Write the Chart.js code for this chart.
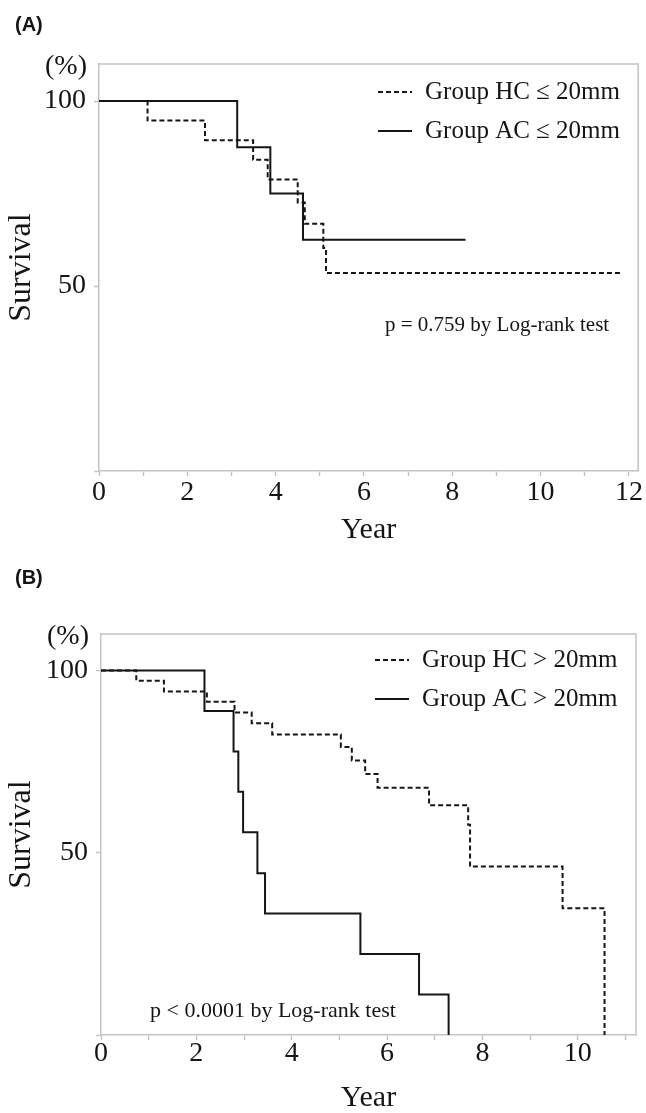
<!DOCTYPE html>
<html>
<head>
<meta charset="utf-8">
<script src="https://cdn.jsdelivr.net/npm/chart.js@4.4.1/dist/chart.umd.min.js"></script>
<style>
  body { margin: 0; background: #fff; }
  .panel { position: absolute; left: 0; }
</style>
</head>
<body>
<canvas id="chartA" class="panel" width="646" height="556" style="top:0"></canvas>
<canvas id="chartB" class="panel" width="646" height="557" style="top:556px"></canvas>
<script>
// Panel A: tumours <= 20mm
const yearsHC_A = [0, 1.10, 2.40, 3.49, 3.82, 4.50, 4.66, 5.08, 5.14, 11.86];
const survHC_A  = [100, 94.7, 89.4, 84.1, 78.8, 72.6, 66.8, 60.3, 53.5, 53.5];
const yearsAC_A = [0, 3.13, 3.88, 4.62, 8.30];
const survAC_A  = [100, 87.5, 75, 62.5, 62.5];

// Panel B: tumours > 20mm
const yearsHC_B = [0, 0.74, 1.32, 2.22, 2.80, 3.16, 3.59, 5.03, 5.26, 5.54, 5.80, 6.88, 7.70, 7.74, 9.68, 10.56];
const survHC_B  = [100, 97.2, 94.2, 91.4, 88.5, 85.5, 82.4, 79.0, 75.3, 71.6, 67.8, 63.0, 57.7, 46.2, 34.8, 0];
const yearsAC_B = [0, 2.17, 2.78, 2.88, 2.98, 3.28, 3.44, 5.44, 6.67, 7.29];
const survAC_B  = [100, 88.9, 77.8, 66.7, 55.6, 44.4, 33.3, 22.2, 11.1, 0];

const yearTicksA = [0, 1, 2, 3, 4, 5, 6, 7, 8, 9, 10, 11, 12];
const yearTicksB = [0, 1, 2, 3, 4, 5, 6, 7, 8, 9, 10, 11];
const survTicks = [0, 50, 100];

const labelsA = ['Group HC \u2264 20mm', 'Group AC \u2264 20mm'];
const labelsB = ['Group HC > 20mm', 'Group AC > 20mm'];
const noteA = 'p = 0.759 by Log-rank test';
const noteB = 'p < 0.0001 by Log-rank test';

const SERIF = '"Liberation Serif", "DejaVu Serif", serif';
const INK = '#151515';
const AXIS = '#c4c4c4';

function toPoints(xs, ys) {
    return xs.map((x, i) => ({ x: x, y: ys[i] }));
}

// draws frame, panel tag, (%) unit, legend and the p-value note
const annotate = {
    id: 'annotate',
    afterDraw(chart, args, opts) {
        const ctx = chart.ctx;
        const area = chart.chartArea;
        ctx.save();

        ctx.strokeStyle = AXIS;
        ctx.lineWidth = 1.5;
        ctx.beginPath();
        ctx.moveTo(area.left, area.top);
        ctx.lineTo(area.right, area.top);
        ctx.lineTo(area.right, area.bottom);
        ctx.stroke();

        ctx.fillStyle = INK;
        ctx.textBaseline = 'middle';
        ctx.textAlign = 'left';
        ctx.font = 'bold 20px "Liberation Sans", Arial, sans-serif';
        ctx.fillText(opts.tag, 15, opts.tagY);

        ctx.font = '28px ' + SERIF;
        ctx.textAlign = 'right';
        ctx.fillText('(%)', area.left - 12, area.top + 3);

        ctx.textAlign = 'left';
        ctx.font = '25px ' + SERIF;
        chart.data.datasets.forEach(function(ds, i) {
            const y = opts.legendY + i * opts.legendGap;
            ctx.strokeStyle = ds.borderColor;
            ctx.lineWidth = 2;
            ctx.setLineDash(ds.borderDash || []);
            ctx.beginPath();
            ctx.moveTo(opts.legendX, y);
            ctx.lineTo(opts.legendX + 34, y);
            ctx.stroke();
            ctx.setLineDash([]);
            ctx.fillText(ds.label, opts.legendX + 47, y);
        });

        ctx.font = opts.noteSize + 'px ' + SERIF;
        ctx.fillText(opts.note, opts.noteX, opts.noteY);
        ctx.restore();
    }
};

function makeChart(id, cfg) {
    const ctx = document.getElementById(id).getContext('2d');
    return new Chart(ctx, {
        type: 'line',
        data: {
            datasets: [
                {
                    label: cfg.labels[0],
                    data: toPoints(cfg.hcX, cfg.hcY),
                    borderColor: INK,
                    borderWidth: 2,
                    borderDash: [5, 3],
                    stepped: 'before',
                    pointRadius: 0,
                    fill: false,
                    order: 1
                },
                {
                    label: cfg.labels[1],
                    data: toPoints(cfg.acX, cfg.acY),
                    borderColor: INK,
                    borderWidth: 2,
                    stepped: 'before',
                    pointRadius: 0,
                    fill: false,
                    order: 0
                }
            ]
        },
        options: {
            responsive: false,
            animation: false,
            devicePixelRatio: 1,
            layout: { padding: cfg.padding },
            plugins: {
                legend: { display: false },
                tooltip: { enabled: false },
                annotate: cfg.annotate
            },
            scales: {
                x: {
                    type: 'linear',
                    min: 0,
                    max: cfg.xMax,
                    afterBuildTicks: function(scale) {
                        scale.ticks = cfg.xTicks.map(v => ({ value: v }));
                    },
                    afterFit: function(scale) { scale.height = cfg.xHeight; },
                    grid: { drawOnChartArea: false, tickLength: 5, tickColor: AXIS, tickWidth: 1.5 },
                    border: { color: AXIS, width: 1.5 },
                    ticks: {
                        autoSkip: false,
                        maxRotation: 0,
                        padding: cfg.xPad,
                        color: INK,
                        font: { family: SERIF, size: 28, lineHeight: 1 },
                        callback: v => (v % 2 === 0 ? String(v) : '')
                    },
                    title: {
                        display: true,
                        text: 'Year',
                        color: INK,
                        padding: 0,
                        font: { family: SERIF, size: 30, lineHeight: 1 }
                    }
                },
                y: {
                    type: 'linear',
                    min: 0,
                    max: 110,
                    afterBuildTicks: function(scale) {
                        scale.ticks = survTicks.map(v => ({ value: v }));
                    },
                    afterFit: function(scale) { scale.width = cfg.yWidth; },
                    grid: { drawOnChartArea: false, tickLength: 5, tickColor: AXIS, tickWidth: 1.5 },
                    border: { color: AXIS, width: 1.5 },
                    ticks: {
                        padding: 8,
                        color: INK,
                        font: { family: SERIF, size: 28, lineHeight: 1 },
                        callback: v => (v === 0 ? '' : String(v))
                    },
                    title: {
                        display: true,
                        text: 'Survival',
                        color: INK,
                        padding: 0,
                        font: { family: SERIF, size: 32, lineHeight: 1 }
                    }
                }
            }
        },
        plugins: [annotate]
    });
}

makeChart('chartA', {
    labels: labelsA,
    hcX: yearsHC_A, hcY: survHC_A,
    acX: yearsAC_A, acY: survAC_A,
    xTicks: yearTicksA,
    xMax: 12.21,
    xHeight: 74,
    xPad: 3,
    yWidth: 93,
    padding: { left: 6, top: 64, right: 6, bottom: 11 },
    annotate: {
        tag: '(A)', tagY: 25,
        legendX: 378, legendY: 92, legendGap: 39,
        note: noteA, noteSize: 21, noteX: 385, noteY: 325
    }
});

makeChart('chartB', {
    labels: labelsB,
    hcX: yearsHC_B, hcY: survHC_B,
    acX: yearsAC_B, acY: survAC_B,
    xTicks: yearTicksB,
    xMax: 11.22,
    xHeight: 78,
    xPad: 0,
    yWidth: 95,
    padding: { left: 6, top: 78, right: 10, bottom: 0 },
    annotate: {
        tag: '(B)', tagY: 22,
        legendX: 375, legendY: 104, legendGap: 39,
        note: noteB, noteSize: 22, noteX: 150, noteY: 455
    }
});
</script>
</body>
</html>
